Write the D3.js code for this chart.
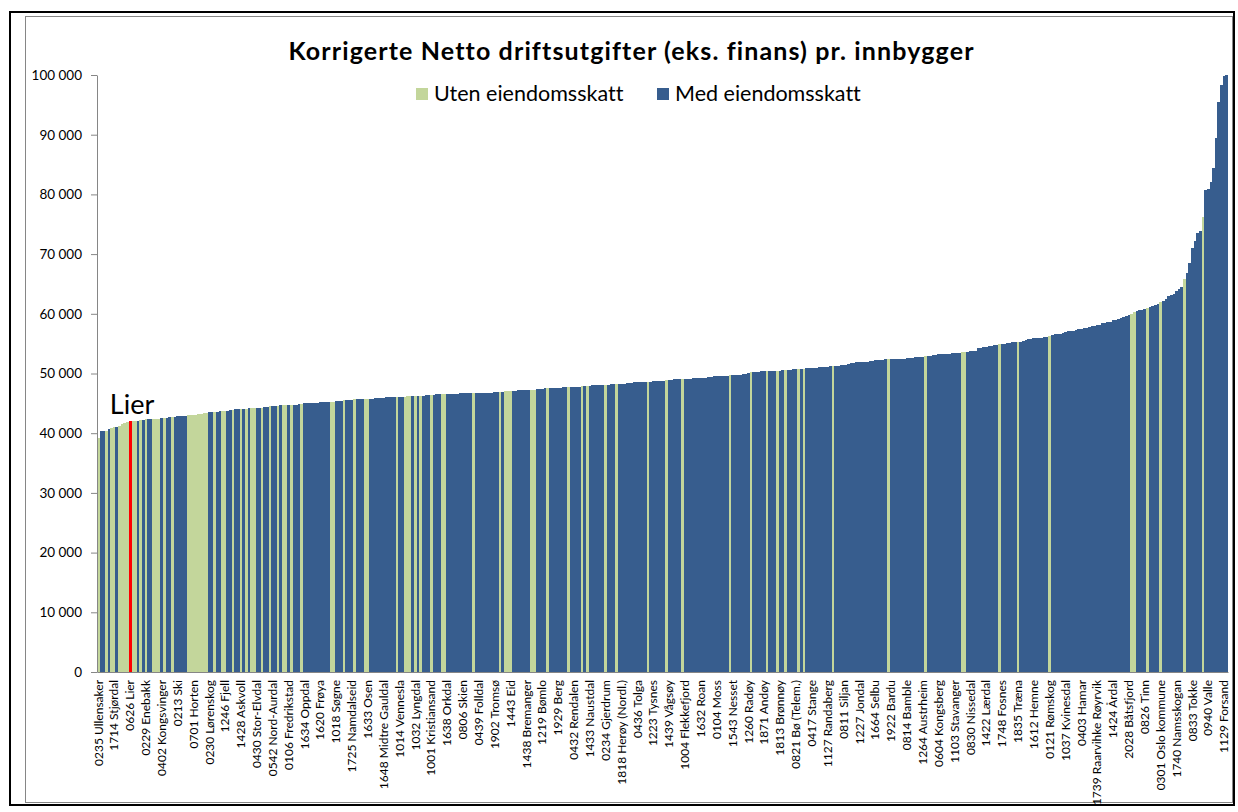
<!DOCTYPE html>
<html>
<head>
<meta charset="utf-8">
<script src="https://cdn.jsdelivr.net/npm/d3@7"></script>
<style>
  body { margin: 0; background: #fff; }
  text { font-family: Lato, "Liberation Sans", sans-serif; font-variant-ligatures: none; }
</style>
</head>
<body>
<svg class="vis-container"></svg>
<script>
// one bar per kommune (428), sorted by cost, value in 1000 kr per innbygger
const values = [
  39.2, 40.3, 40.3, 40.4, 40.7, 40.8, 41.0, 41.1, 41.2, 41.6, 41.7, 41.8,
  42.0, 42.1, 42.1, 42.1, 42.2, 42.2, 42.3, 42.3, 42.3, 42.4, 42.4, 42.4, 42.5,
  42.6, 42.6, 42.7, 42.7, 42.7, 42.8, 42.8, 42.9, 42.9,
  43.0, 43.0, 43.1, 43.1, 43.2, 43.2, 43.3, 43.3,
  43.5, 43.5, 43.6, 43.6, 43.7, 43.7, 43.8, 43.8, 43.9,
  43.9, 44.0, 44.0, 44.0, 44.1, 44.1, 44.2, 44.2, 44.2, 44.3, 44.3, 44.3, 44.4,
  44.4, 44.5, 44.5, 44.6, 44.6, 44.7,
  44.7, 44.7, 44.8, 44.8, 44.8, 44.8, 44.9, 44.9, 45.0, 45.0, 45.0,
  45.1, 45.1, 45.1, 45.2, 45.2, 45.2, 45.3, 45.3, 45.3,
  45.4, 45.4, 45.4, 45.5, 45.6, 45.6, 45.6, 45.7, 45.7, 45.7, 45.8,
  45.8, 45.8, 45.8, 45.8, 45.9, 45.9, 45.9, 45.9, 46.0, 46.0, 46.0, 46.0, 46.1,
  46.1, 46.1, 46.1, 46.2, 46.2, 46.2, 46.3, 46.3, 46.3, 46.3, 46.4, 46.4, 46.4,
  46.4, 46.5, 46.5, 46.5, 46.5, 46.5, 46.6, 46.6, 46.6, 46.6, 46.7, 46.7, 46.7, 46.7, 46.8, 46.8, 46.8, 46.8,
  46.8, 46.8, 46.8, 46.8, 46.8, 46.9, 46.9, 46.9, 46.9, 47.0, 47.0, 47.1,
  47.1, 47.1, 47.2, 47.2, 47.2, 47.2, 47.3, 47.3, 47.3, 47.4, 47.4, 47.4, 47.5, 47.5,
  47.5, 47.5, 47.6, 47.6, 47.6, 47.7, 47.7, 47.7, 47.8, 47.8, 47.8, 47.8, 47.9,
  47.9, 47.9, 47.9, 48.0, 48.0, 48.0, 48.0, 48.1, 48.1, 48.1, 48.2, 48.2,
  48.2, 48.3, 48.3, 48.3, 48.4, 48.4, 48.4, 48.5, 48.5, 48.5, 48.5, 48.6, 48.6,
  48.6, 48.7, 48.7, 48.7, 48.8, 48.8, 48.9, 48.9, 48.9, 49.0, 49.0, 49.0,
  49.0, 49.1, 49.1, 49.1, 49.2, 49.2, 49.2, 49.3, 49.3, 49.3, 49.4, 49.4, 49.5,
  49.5, 49.5, 49.6, 49.6, 49.6, 49.7, 49.7, 49.7, 49.8, 49.8, 49.9, 49.9, 50.1,
  50.2, 50.2, 50.3, 50.3, 50.4, 50.4, 50.4, 50.4, 50.5, 50.5, 50.5, 50.5, 50.6,
  50.6, 50.6, 50.6, 50.7, 50.7, 50.7, 50.8, 50.8, 50.9, 50.9, 51.0, 51.0, 51.0,
  51.1, 51.1, 51.1, 51.1, 51.2, 51.2, 51.3, 51.3, 51.4, 51.5, 51.5, 51.6, 51.8,
  51.8, 51.9, 51.9, 52.0, 52.0, 52.0, 52.1, 52.1, 52.2, 52.2, 52.3, 52.3, 52.4,
  52.4, 52.4, 52.4, 52.5, 52.5, 52.5, 52.5, 52.6, 52.6, 52.6, 52.7, 52.7,
  52.7, 52.8, 52.9, 53.0, 53.0, 53.1, 53.1, 53.2, 53.2, 53.3, 53.3, 53.3, 53.4,
  53.4, 53.5, 53.5, 53.6, 53.6, 53.6, 53.7, 53.7, 53.7, 54.2, 54.3, 54.4, 54.5,
  54.6, 54.6, 54.7, 54.8, 54.9, 54.9, 55.0, 55.1, 55.1, 55.2, 55.2, 55.3, 55.3,
  55.5, 55.6, 55.7, 55.8, 55.9, 55.9, 56.0, 56.0, 56.1, 56.1, 56.3, 56.4, 56.6,
  56.6, 56.7, 56.8, 56.9, 57.1, 57.1, 57.2, 57.3, 57.4, 57.5, 57.6, 57.7, 57.8,
  57.9, 58.0, 58.1, 58.2, 58.4, 58.5, 58.6, 58.7, 58.9, 59.0, 59.1, 59.3, 59.5,
  59.7, 59.8, 60.0, 60.3, 60.5, 60.6, 60.7, 60.8, 61.0, 61.2, 61.3, 61.4,
  61.7, 61.9, 62.2, 62.5, 62.9, 63.1, 63.4, 63.8, 64.2, 64.5, 65.8, 66.9, 68.5,
  71.0, 72.2, 73.5, 73.8, 76.2, 80.7, 80.9, 82.1, 84.4, 89.4, 95.4, 98.3, 99.8, 100.0
];

// positions (bar index) of kommuner without eiendomsskatt
const utenIdx = [
  0, 3, 5, 6, 8, 9, 10, 11, 13, 14, 16, 18, 21, 22, 23, 25, 28,
  34, 35, 36, 37, 38, 39, 40, 41, 44, 47, 48, 51, 54, 56, 58, 59, 62, 65, 68,
  70, 71, 73, 77, 88, 89, 93, 97, 101, 102, 113, 116, 117, 118, 120, 122, 126,
  130, 131, 142, 152, 154, 155, 156, 164, 165, 170, 178, 183, 185, 192, 196,
  208, 215, 221, 239, 247, 253, 257, 260, 265, 267, 278, 299, 313, 327, 328,
  341, 348, 360, 391, 392, 397, 402, 411, 418
];

const lierIdx = 12; // highlighted in red

// every 6th bar gets a name on the axis
const tickNames = [
  "0235 Ullensaker", "1714 Stjørdal", "0626 Lier", "0229 Enebakk", "0402 Kongsvinger",
  "0213 Ski", "0701 Horten", "0230 Lørenskog", "1246 Fjell", "1428 Askvoll",
  "0430 Stor-Elvdal", "0542 Nord-Aurdal", "0106 Fredrikstad", "1634 Oppdal", "1620 Frøya",
  "1018 Søgne", "1725 Namdalseid", "1633 Osen", "1648 Midtre Gauldal", "1014 Vennesla",
  "1032 Lyngdal", "1001 Kristiansand", "1638 Orkdal", "0806 Skien", "0439 Folldal",
  "1902 Tromsø", "1443 Eid", "1438 Bremanger", "1219 Bømlo", "1929 Berg",
  "0432 Rendalen", "1433 Naustdal", "0234 Gjerdrum", "1818 Herøy (Nordl.)", "0436 Tolga",
  "1223 Tysnes", "1439 Vågsøy", "1004 Flekkefjord", "1632 Roan", "0104 Moss",
  "1543 Nesset", "1260 Radøy", "1871 Andøy", "1813 Brønnøy", "0821 Bø (Telem.)",
  "0417 Stange", "1127 Randaberg", "0811 Siljan", "1227 Jondal", "1664 Selbu",
  "1922 Bardu", "0814 Bamble", "1264 Austrheim", "0604 Kongsberg", "1103 Stavanger",
  "0830 Nissedal", "1422 Lærdal", "1748 Fosnes", "1835 Træna", "1612 Hemne",
  "0121 Rømskog", "1037 Kvinesdal", "0403 Hamar", "1739 Raarvihke Røyrvik", "1424 Årdal",
  "2028 Båtsfjord", "0826 Tinn", "0301 Oslo kommune", "1740 Namsskogan", "0833 Tokke",
  "0940 Valle", "1129 Forsand"
];
const tickStep = 6;

const yTicks = [0, 10000, 20000, 30000, 40000, 50000, 60000, 70000, 80000, 90000, 100000];

const legendItems = [
  { label: "Uten eiendomsskatt", color: "#c3d69b" },
  { label: "Med eiendomsskatt", color: "#375d8e" }
];

const width = 1238;
const height = 812;

const svg = d3.select('.vis-container')
  .attr('width', width)
  .attr('height', height);

// outer frame + chart area frame
svg.append('rect')
  .attr('x', 10).attr('y', 12).attr('width', 1224).attr('height', 793)
  .attr('fill', 'none').attr('stroke', '#000').attr('stroke-width', 2);
svg.append('rect')
  .attr('x', 25.5).attr('y', 16.5).attr('width', 1207).attr('height', 786)
  .attr('fill', 'none').attr('stroke', '#868686').attr('stroke-width', 1);

const plot = { left: 97, right: 1228, top: 75, bottom: 672 };

const x = d3.scaleBand()
  .domain(d3.range(values.length))
  .range([plot.left, plot.right])
  .padding(0);

const y = d3.scaleLinear()
  .domain([0, 100000])
  .range([plot.bottom, plot.top]);

const utenSet = new Set(utenIdx);
const bars = values.map((v, i) => ({ i: i, value: v * 1000 }));

function barColor(d) {
  if (d.i === lierIdx) return '#ff0000';
  return utenSet.has(d.i) ? legendItems[0].color : legendItems[1].color;
}

const barSel = svg.append('g')
  .selectAll('rect')
  .data(bars)
  .enter()
  .append('rect')
    .attr('x', d => x(d.i))
    .attr('width', x.bandwidth() + 0.4) // little overlap so no white seams
    .attr('y', d => y(d.value))
    .attr('height', d => y(0) - y(d.value))
    .attr('fill', d => barColor(d))
    .attr('shape-rendering', 'crispEdges');

// keep the red Lier bar on top so the neighbour doesn't cover it
barSel.filter(d => d.i === lierIdx).raise();

// y axis
const fmt = d => d3.format(',')(d).replace(/,/g, ' ');
const yAxis = svg.append('g')
  .attr('transform', `translate(${plot.left},0)`)
  .call(d3.axisLeft(y).tickValues(yTicks).tickSize(6).tickSizeOuter(0).tickPadding(9).tickFormat(fmt));
yAxis.select('.domain').attr('stroke', '#868686');
yAxis.selectAll('.tick line').attr('stroke', '#868686');
yAxis.selectAll('.tick text')
  .attr('font-size', '13.5px')
  .attr('fill', '#000')
  .style('font-family', 'Lato, sans-serif');

// x axis, names only on every 6th bar
const tickIdx = tickNames.map((n, k) => k * tickStep);
const xAxis = svg.append('g')
  .attr('transform', `translate(0,${plot.bottom})`)
  .call(d3.axisBottom(x).tickValues(tickIdx).tickSize(0).tickFormat(i => tickNames[i / tickStep]));
xAxis.select('.domain').attr('stroke', '#868686');
xAxis.selectAll('.tick text')
  .attr('transform', 'rotate(-90)')
  .attr('text-anchor', 'end')
  .attr('x', -8)
  .attr('y', 0)
  .attr('dy', '0.35em')
  .attr('font-size', '12px')
  .attr('fill', '#000')
  .style('font-family', 'Lato, sans-serif');

// Lier callout
svg.append('text')
  .attr('x', x(lierIdx) + x.bandwidth() / 2 + 2)
  .attr('y', y(values[lierIdx] * 1000) - 7)
  .attr('text-anchor', 'middle')
  .attr('font-size', '27px')
  .text('Lier');

// title
svg.append('text')
  .attr('x', 631)
  .attr('y', 60)
  .attr('text-anchor', 'middle')
  .attr('font-size', '25px')
  .attr('font-weight', 'bold')
  .attr('textLength', 685)
  .attr('lengthAdjust', 'spacing')
  .text('Korrigerte Netto driftsutgifter (eks. finans) pr. innbygger');

// legend
const legendX = [416, 657];
const legend = svg.append('g')
  .selectAll('g')
  .data(legendItems)
  .enter()
  .append('g')
  .attr('transform', (d, k) => `translate(${legendX[k]},88)`);
legend.append('rect')
  .attr('width', 12).attr('height', 12)
  .attr('fill', d => d.color);
legend.append('text')
  .attr('x', 18)
  .attr('y', 13)
  .attr('font-size', '21.5px')
  .text(d => d.label);
</script>
</body>
</html>
